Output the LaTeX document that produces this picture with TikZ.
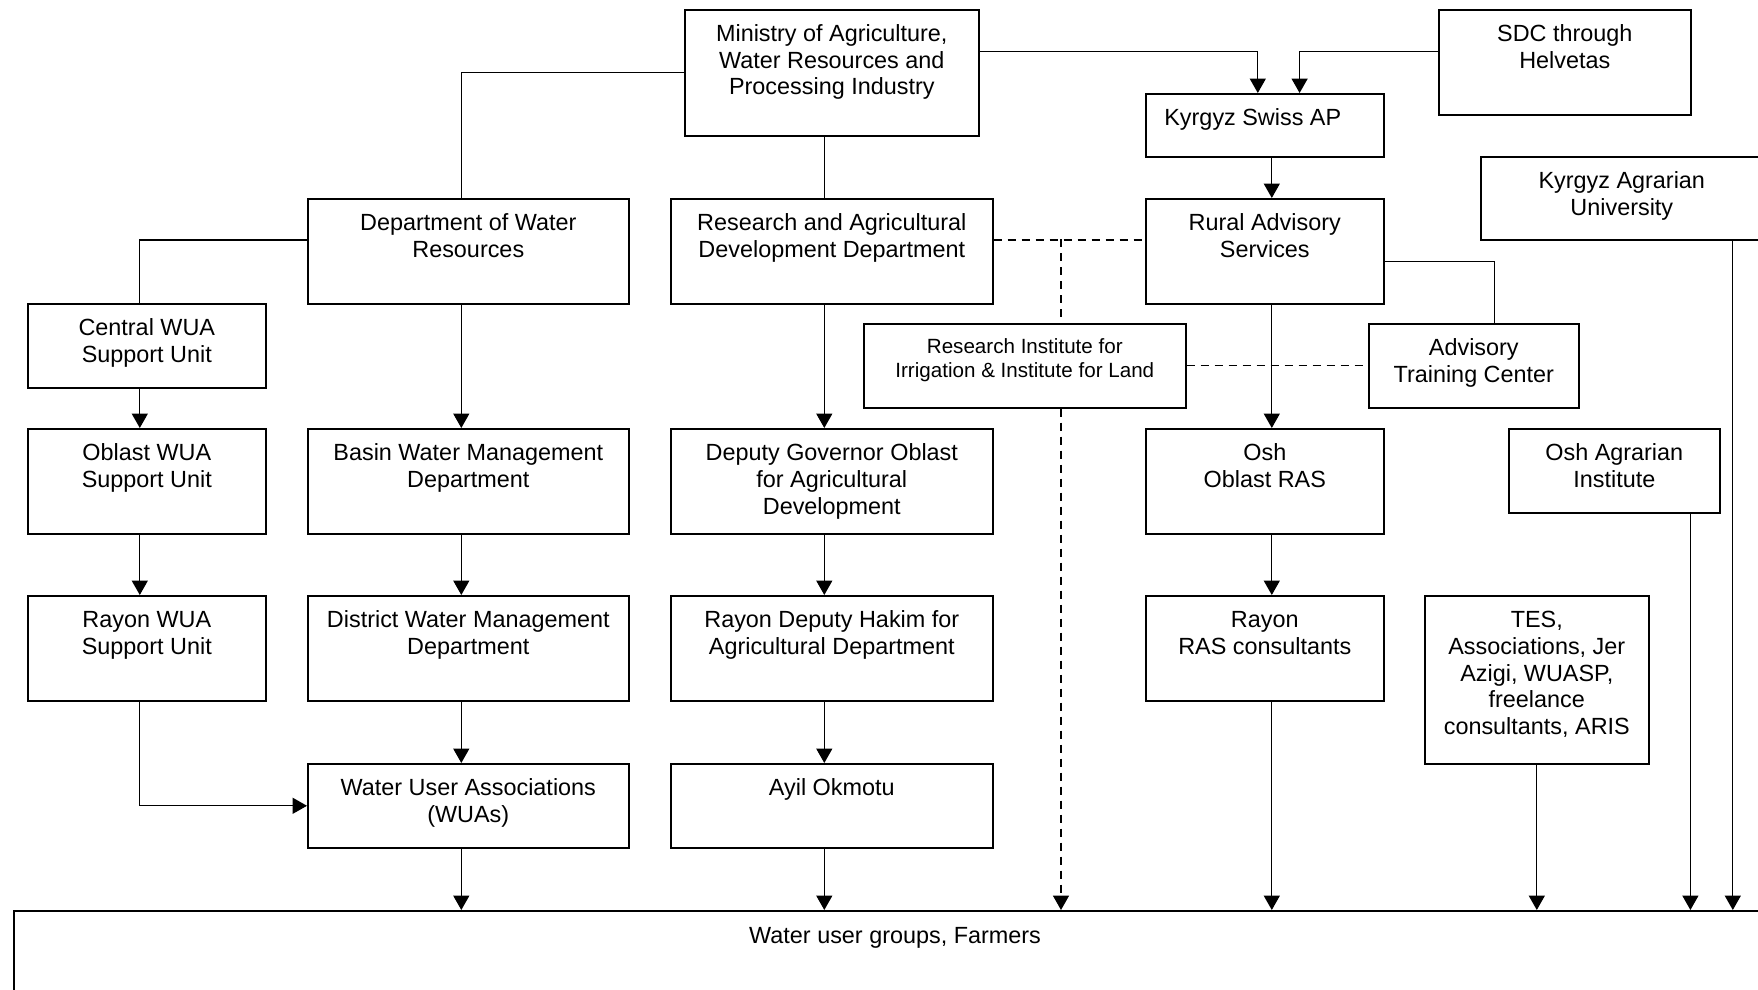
\documentclass[tikz,border=0pt]{standalone}
\usepackage{fontspec}
\setmainfont{Liberation Sans}
\usetikzlibrary{arrows.meta}

\tikzset{
  org/.style n args={3}{draw, line width=0.8pt, anchor=north west, align=center,
    inner xsep=0pt, inner ysep=0pt, minimum width=#1, minimum height=#2,
    text height=16pt+(#3-1)*13.3pt, text depth=#2-16pt-(#3-1)*13.3pt,
    font=\fontsize{11.7}{13.3}\selectfont},
  link/.style={line width=0.65pt},
  flow/.style={link, -{Triangle[length=7.2pt,width=8pt]}},
  loose/.style={link, dash pattern=on 4pt off 3pt},
}

\begin{document}
\begin{tikzpicture}[x=0.5pt, y=-0.5pt]
\useasboundingbox (0,0) rectangle (1758,990);
\clip (0,0) rectangle (1758,990);

% top row
\node[org={147pt}{63pt}{3}] (min) at (684,9) {Ministry of Agriculture,\\Water Resources and\\Processing Industry};
\node[org={126pt}{52.5pt}{2}] (sdc) at (1438,9) {SDC through\\Helvetas};
\node[org={119pt}{31.5pt}{1}] (ksap) at (1145,93) {Kyrgyz Swiss AP\hspace*{12pt}};
\node[org={141pt}{41.5pt}{2}] (kau) at (1480,156) {Kyrgyz Agrarian\\University};

% departments
\node[org={160.5pt}{52.5pt}{2}] (dwr) at (307,198) {Department of Water\\Resources};
\node[org={161pt}{52.5pt}{2}] (radd) at (670,198) {Research and Agricultural\\Development Department};
\node[org={119pt}{52.5pt}{2}] (ras) at (1145,198) {Rural Advisory\\Services};
\node[org={119pt}{42pt}{2}] (cwua) at (27,303) {Central WUA\\Support Unit};
\node[org={161pt}{42pt}{2}, font=\fontsize{10.3}{11.7}\selectfont, text height=26.7pt, text depth=15.3pt] (rii) at (863,323) {Research Institute for\\Irrigation \& Institute for Land};
\node[org={105pt}{42pt}{2}] (atc) at (1368,323) {Advisory\\Training Center};

% oblast level
\node[org={119pt}{52.5pt}{2}] (owua) at (27,428) {Oblast WUA\\Support Unit};
\node[org={160.5pt}{52.5pt}{2}] (bwmd) at (307,428) {Basin Water Management\\Department};
\node[org={161pt}{52.5pt}{3}] (dgo) at (670,428) {Deputy Governor Oblast\\for Agricultural\\Development};
\node[org={119pt}{52.5pt}{2}] (oras) at (1145,428) {Osh\\Oblast RAS};
\node[org={105.5pt}{42pt}{2}] (oai) at (1508,428) {Osh Agrarian\\Institute};

% rayon level
\node[org={119pt}{52.5pt}{2}] (rwua) at (27,595) {Rayon WUA\\Support Unit};
\node[org={160.5pt}{52.5pt}{2}] (dwmd) at (307,595) {District Water Management\\Department};
\node[org={161pt}{52.5pt}{2}] (rdh) at (670,595) {Rayon Deputy Hakim for\\Agricultural Department};
\node[org={119pt}{52.5pt}{2}] (rras) at (1145,595) {Rayon\\RAS consultants};
\node[org={112pt}{84pt}{5}] (tes) at (1424,595) {TES,\\Associations, Jer\\Azigi, WUASP,\\freelance\\consultants, ARIS};

% local level
\node[org={160.5pt}{42pt}{2}] (wua) at (307,763) {Water User Associations\\(WUAs)};
\node[org={161pt}{42pt}{1}] (ayil) at (670,763) {Ayil Okmotu};
\node[org={881pt}{50pt}{1}, line width=1.1pt] (farm) at (13,910) {Water user groups, Farmers};

% ministry links
\draw[link] (min.west) -| ([xshift=-3.5pt]dwr.north);
\draw[link] ([xshift=-3.75pt]min.south) -- ([xshift=-3.75pt]radd.north);
\draw[flow] ([yshift=10.65pt]min.east) -| ([xshift=-3.5pt]ksap.north);
\draw[flow] ([yshift=5.4pt]sdc.west) -| ([xshift=17.4pt]ksap.north);
\draw[flow] ([xshift=3.5pt]ksap.south) -- ([xshift=3.5pt]ras.north);

% water column
\draw[link] ([yshift=5.6pt]dwr.west) -| ([xshift=-3.5pt]cwua.north);
\draw[flow] ([xshift=-3.5pt]cwua.south) -- ([xshift=-3.5pt]owua.north);
\draw[flow] ([xshift=-3.5pt]owua.south) -- ([xshift=-3.5pt]rwua.north);
\draw[flow] ([xshift=-3.5pt]rwua.south) |- (wua.west);
\draw[flow] ([xshift=-3.5pt]dwr.south) -- ([xshift=-3.5pt]bwmd.north);
\draw[flow] ([xshift=-3.5pt]bwmd.south) -- ([xshift=-3.5pt]dwmd.north);
\draw[flow] ([xshift=-3.5pt]dwmd.south) -- ([xshift=-3.5pt]wua.north);
\draw[flow] ([xshift=-3.5pt]wua.south) -- ([xshift=-3.5pt]wua.south |- farm.north);

% agriculture column
\draw[flow] ([xshift=-3.75pt]radd.south) -- ([xshift=-3.75pt]dgo.north);
\draw[flow] ([xshift=-3.75pt]dgo.south) -- ([xshift=-3.75pt]rdh.north);
\draw[flow] ([xshift=-3.75pt]rdh.south) -- ([xshift=-3.75pt]ayil.north);
\draw[flow] ([xshift=-3.75pt]ayil.south) -- ([xshift=-3.75pt]ayil.south |- farm.north);

% research links
\draw[loose] ([yshift=5.6pt]radd.east) -- ([yshift=5.6pt]ras.west);
\coordinate (tap) at (1061,239.3);
\draw[loose] (tap) -- (tap |- rii.north);
\draw[loose, flow] (tap |- rii.south) -- (tap |- farm.north);
\draw[loose] (rii.east) -- (atc.west);

% advisory column
\draw[flow] ([xshift=3.5pt]ras.south) -- ([xshift=3.5pt]oras.north);
\draw[flow] ([xshift=3.5pt]oras.south) -- ([xshift=3.5pt]rras.north);
\draw[flow] ([xshift=3.5pt]rras.south) -- ([xshift=3.5pt]rras.south |- farm.north);
\draw[link] ([yshift=-5.1pt]ras.east) -| ([xshift=10.5pt]atc.north);

% other providers
\draw[flow] (tes.south) -- (tes.south |- farm.north);
\draw[flow] ([xshift=38.05pt]oai.south) -- ([xshift=38.05pt]oai.south |- farm.north);
\draw[flow] ([xshift=55.5pt]kau.south) -- ([xshift=55.5pt]kau.south |- farm.north);
\end{tikzpicture}
\end{document}
